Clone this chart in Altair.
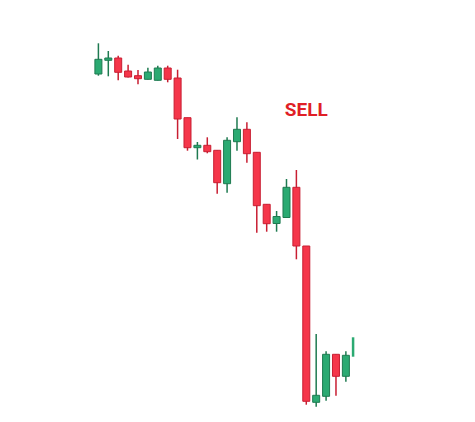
import altair as alt
import pandas as pd

# candle index
idx = list(range(27))
# prices (arbitrary units)
opens = [346.0, 359.7, 362.0, 349.0, 344.3, 340.7, 339.7, 352.0, 342.0, 302.3,
         272.3, 274.7, 269.7, 236.3, 278.3, 290.7, 267.7, 215.7, 196.5, 202.5,
         232.7, 174.0, 17.7, 23.7, 65.7, 43.7, 63.3]
closes = [360.7, 362.0, 347.7, 343.0, 341.3, 348.0, 352.0, 340.7, 301.0, 272.3,
          274.7, 268.3, 237.3, 279.7, 290.7, 266.3, 214.3, 196.3, 203.5, 232.7,
          174.0, 18.7, 24.7, 65.7, 43.7, 64.7, 63.3]
highs = [376.7, 369.0, 364.3, 355.3, 350.0, 352.3, 354.3, 354.3, 350.3, 302.3,
         278.0, 282.7, 269.7, 282.7, 302.7, 297.7, 267.7, 215.7, 209.0, 241.0,
         250.0, 174.0, 86.0, 68.7, 65.7, 68.7, 82.7]
lows = [344.3, 343.7, 339.7, 342.5, 335.7, 340.5, 339.5, 337.7, 281.0, 269.3,
        260.5, 266.7, 226.3, 227.3, 269.3, 257.3, 187.3, 188.3, 188.3, 202.5,
        160.7, 15.3, 13.3, 19.3, 24.3, 38.3, 63.3]
signal_text = ["SELL"]

df = pd.DataFrame({"i": idx, "open": opens, "close": closes, "high": highs, "low": lows})
df["dir"] = ["up" if c > o else ("flat" if c == o else "down") for o, c in zip(opens, closes)]

xs = alt.Scale(domain=[-8.627, 36.73], nice=False, zero=False)
ys = alt.Scale(domain=[6, 412], nice=False, zero=False)

GREEN, GREEN_D = "#2BAA72", "#1E7A50"
RED, RED_D = "#F5364A", "#C81E32"

base = alt.Chart(df)
X = alt.X("i:Q", scale=xs, axis=None)


def wick(d, col):
    return base.transform_filter(f"datum.dir == '{d}'").mark_rule(strokeWidth=1.5, color=col).encode(
        x=X, y=alt.Y("low:Q", scale=ys, axis=None), y2="high:Q")


def body(d, f, s):
    return base.transform_filter(f"datum.dir == '{d}'").mark_bar(
        width=7, fill=f, stroke=s, strokeWidth=1).encode(
        x=X, y=alt.Y("open:Q", scale=ys, axis=None), y2="close:Q")


last = base.transform_filter("datum.dir == 'flat'").mark_rule(
    strokeWidth=2.5, color=GREEN, xOffset=-2.7).encode(
    x=X, y=alt.Y("low:Q", scale=ys, axis=None), y2="high:Q")

label = alt.Chart(pd.DataFrame({"t": signal_text, "x": [21.0], "y": [310.5]})).mark_text(
    fontSize=19, fontWeight="bold", color="#E01F26", font="Roboto", baseline="middle", align="center"
).encode(
    x=alt.X("x:Q", scale=xs, axis=None),
    y=alt.Y("y:Q", scale=ys, axis=None),
    text="t:N",
)

chart = alt.layer(
    wick("up", GREEN_D), wick("down", RED_D),
    body("up", GREEN, GREEN_D), body("down", RED, RED_D),
    last, label,
).properties(
    width=459, height=406, padding=0, background="white",
    autosize=alt.AutoSizeParams(type="none"),
).configure_view(strokeWidth=0)

chart.save("out.html", embed_options={"renderer": "svg", "actions": False})
